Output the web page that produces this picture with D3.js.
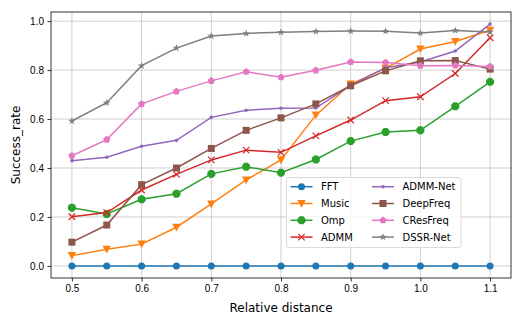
<!DOCTYPE html>
<html>
<meta charset="utf-8">
<style>
body { margin: 0; background: #fff; }
svg { font-family: "DejaVu Sans", sans-serif; }
.grid line { stroke: #b0b0b0; stroke-opacity: 0.75; stroke-width: 0.8; }
.axis text { font-size: 10px; fill: #000; }
.axis path, .axis line { stroke: #000; stroke-width: 0.8; }
</style>
<body>
<svg width="523" height="327"></svg>
<script src="https://cdn.jsdelivr.net/npm/d3@7"></script>
<script>

var distances = [0.5, 0.55, 0.6, 0.65, 0.7, 0.75, 0.8, 0.85, 0.9, 0.95, 1.0, 1.05, 1.1];
var methods = ["FFT", "Music", "Omp", "ADMM", "ADMM-Net", "DeepFreq", "CResFreq", "DSSR-Net"];
var xTicks = [0.5, 0.6, 0.7, 0.8, 0.9, 1.0, 1.1];
var yTicks = [0, 0.2, 0.4, 0.6, 0.8, 1.0];

var fft      = [0, 0, 0, 0, 0, 0, 0, 0, 0, 0, 0, 0, 0];
var music    = [0.042, 0.068, 0.089, 0.158, 0.253, 0.351, 0.433, 0.616, 0.743, 0.807, 0.886, 0.917, 0.963];
var omp      = [0.238, 0.212, 0.272, 0.295, 0.376, 0.405, 0.381, 0.435, 0.510, 0.547, 0.554, 0.652, 0.752];
var admm     = [0.201, 0.218, 0.310, 0.374, 0.433, 0.473, 0.464, 0.531, 0.596, 0.675, 0.691, 0.786, 0.932];
var admmNet  = [0.430, 0.444, 0.489, 0.513, 0.607, 0.636, 0.644, 0.645, 0.738, 0.810, 0.833, 0.878, 0.988];
var deepFreq = [0.097, 0.167, 0.332, 0.400, 0.480, 0.554, 0.605, 0.662, 0.736, 0.797, 0.838, 0.839, 0.804];
var cresFreq = [0.450, 0.516, 0.662, 0.713, 0.756, 0.793, 0.771, 0.799, 0.833, 0.831, 0.818, 0.819, 0.815];
var dssrNet  = [0.592, 0.667, 0.818, 0.890, 0.939, 0.950, 0.955, 0.958, 0.960, 0.959, 0.952, 0.962, 0.956];

var seriesValues = [fft, music, omp, admm, admmNet, deepFreq, cresFreq, dssrNet];
var colors = ["#1f77b4", "#ff7f0e", "#2ca02c", "#d62728", "#9467bd", "#8c564b", "#e377c2", "#7f7f7f"];
var markers = ["circle", "triDown", "crossX", "x", "dot", "square", "pentagon", "star"];

var svg = d3.select("svg");
var margin = {left: 51, right: 12, top: 12, bottom: 49};
var width = 523, height = 327;

var x = d3.scaleLinear().domain([0.47, 1.13]).range([margin.left, width - margin.right]);
var y = d3.scaleLinear().domain([-0.0494, 1.0374]).range([height - margin.bottom, margin.top]);

// grid
var grid = svg.append("g").attr("class", "grid");
grid.selectAll(".gx").data(xTicks).enter().append("line")
    .attr("x1", d => x(d)).attr("x2", d => x(d))
    .attr("y1", y.range()[1]).attr("y2", y.range()[0]);
grid.selectAll(".gy").data(yTicks).enter().append("line")
    .attr("y1", d => y(d)).attr("y2", d => y(d))
    .attr("x1", x.range()[0]).attr("x2", x.range()[1]);

function markerPath(type, s) {
  var p = d3.path();
  if (type === "circle") return d3.symbol(d3.symbolCircle, s * s * Math.PI / 4)();
  if (type === "square") return d3.symbol(d3.symbolSquare, s * s)();
  if (type === "dot") return d3.symbol(d3.symbolCircle, s * s * Math.PI / 4)();
  if (type === "triDown") {
    var r = s * 0.6;
    p.moveTo(-r, -r * 0.85); p.lineTo(r, -r * 0.85); p.lineTo(0, r * 1.0); p.closePath();
    return p.toString();
  }
  if (type === "pentagon" || type === "star") {
    var n = 5, R = s / 2, inner = type === "star" ? R * 0.38 : null;
    var pts = [];
    for (var i = 0; i < n; i++) {
      var a = -Math.PI / 2 + i * 2 * Math.PI / n;
      pts.push([R * Math.cos(a), R * Math.sin(a)]);
      if (inner) {
        var b = a + Math.PI / n;
        pts.push([inner * Math.cos(b), inner * Math.sin(b)]);
      }
    }
    return "M" + pts.map(q => q.join(",")).join("L") + "Z";
  }
  if (type === "crossX") {
    // filled plus merged with filled x
    var h = s / 2, w = s * 0.2;
    var plus = "M" + (-w) + "," + (-h) + "H" + w + "V" + (-w) + "H" + h + "V" + w + "H" + w + "V" + h + "H" + (-w) + "V" + w + "H" + (-h) + "V" + (-w) + "H" + (-w) + "Z";
    return plus;
  }
  if (type === "x") {
    var k = s / 2;
    return "M" + (-k) + "," + (-k) + "L" + k + "," + k + "M" + (-k) + "," + k + "L" + k + "," + (-k);
  }
}

function drawMarker(g, type, color, cx, cy, s) {
  if (type === "x") {
    g.append("path").attr("d", markerPath(type, s))
      .attr("transform", "translate(" + cx + "," + cy + ")")
      .attr("stroke", color).attr("stroke-width", 1.2).attr("fill", "none");
  } else if (type === "crossX") {
    g.append("path").attr("d", markerPath(type, s))
      .attr("transform", "translate(" + cx + "," + cy + ")").attr("fill", color);
    g.append("path").attr("d", markerPath(type, s))
      .attr("transform", "translate(" + cx + "," + cy + ") rotate(45)").attr("fill", color);
    g.append("circle").attr("cx", cx).attr("cy", cy).attr("r", s * 0.36).attr("fill", color);
  } else {
    g.append("path").attr("d", markerPath(type, s))
      .attr("transform", "translate(" + cx + "," + cy + ")").attr("fill", color);
  }
}

var sizes = {circle: 7, triDown: 7, crossX: 8, x: 6.5, dot: 3.6, square: 7, pentagon: 7.5, star: 8};

var line = d3.line().x((d, i) => x(distances[i])).y(d => y(d));

seriesValues.forEach(function(vals, si) {
  var g = svg.append("g");
  g.append("path").datum(vals).attr("d", line)
    .attr("fill", "none").attr("stroke", colors[si]).attr("stroke-width", 1.5);
  vals.forEach(function(v, i) {
    drawMarker(g, markers[si], colors[si], x(distances[i]), y(v), sizes[markers[si]]);
  });
});

// frame
svg.append("rect")
  .attr("x", margin.left).attr("y", margin.top)
  .attr("width", x.range()[1] - x.range()[0]).attr("height", y.range()[0] - y.range()[1])
  .attr("fill", "none").attr("stroke", "#000").attr("stroke-width", 0.8);

// axes
svg.append("g").attr("class", "axis")
  .attr("transform", "translate(0," + y.range()[0] + ")")
  .call(d3.axisBottom(x).tickValues(xTicks).tickSize(3.5).tickPadding(3.5).tickFormat(d3.format(".1f")))
  .select(".domain").remove();
svg.append("g").attr("class", "axis")
  .attr("transform", "translate(" + x.range()[0] + ",0)")
  .call(d3.axisLeft(y).tickValues(yTicks).tickSize(3.5).tickPadding(3.5).tickFormat(d3.format(".1f")))
  .select(".domain").remove();

svg.append("text").attr("x", (x.range()[0] + x.range()[1]) / 2).attr("y", 312)
  .attr("text-anchor", "middle").attr("font-size", 12).text("Relative distance");
svg.append("text")
  .attr("transform", "translate(20," + (y.range()[0] + y.range()[1]) / 2 + ") rotate(-90)")
  .attr("text-anchor", "middle").attr("font-size", 12).text("Success_rate");

// legend
var leg = svg.append("g");
leg.append("rect").attr("x", 286.5).attr("y", 177.5).attr("width", 174.5).attr("height", 70)
  .attr("rx", 2.5).attr("fill", "#fff").attr("fill-opacity", 0.8)
  .attr("stroke", "#d0d0d0").attr("stroke-width", 0.8);
methods.forEach(function(name, i) {
  var col = Math.floor(i / 4), row = i % 4;
  var x0 = col === 0 ? 290.5 : 372, ly = 186.7 + row * 16.8;
  leg.append("line").attr("x1", x0).attr("x2", x0 + 22).attr("y1", ly).attr("y2", ly)
    .attr("stroke", colors[i]).attr("stroke-width", 1.5);
  drawMarker(leg, markers[i], colors[i], x0 + 11, ly, sizes[markers[i]]);
  leg.append("text").attr("x", x0 + 30.5).attr("y", ly + 3.6).attr("font-size", 10).text(name);
});
</script>
</body>
</html>
